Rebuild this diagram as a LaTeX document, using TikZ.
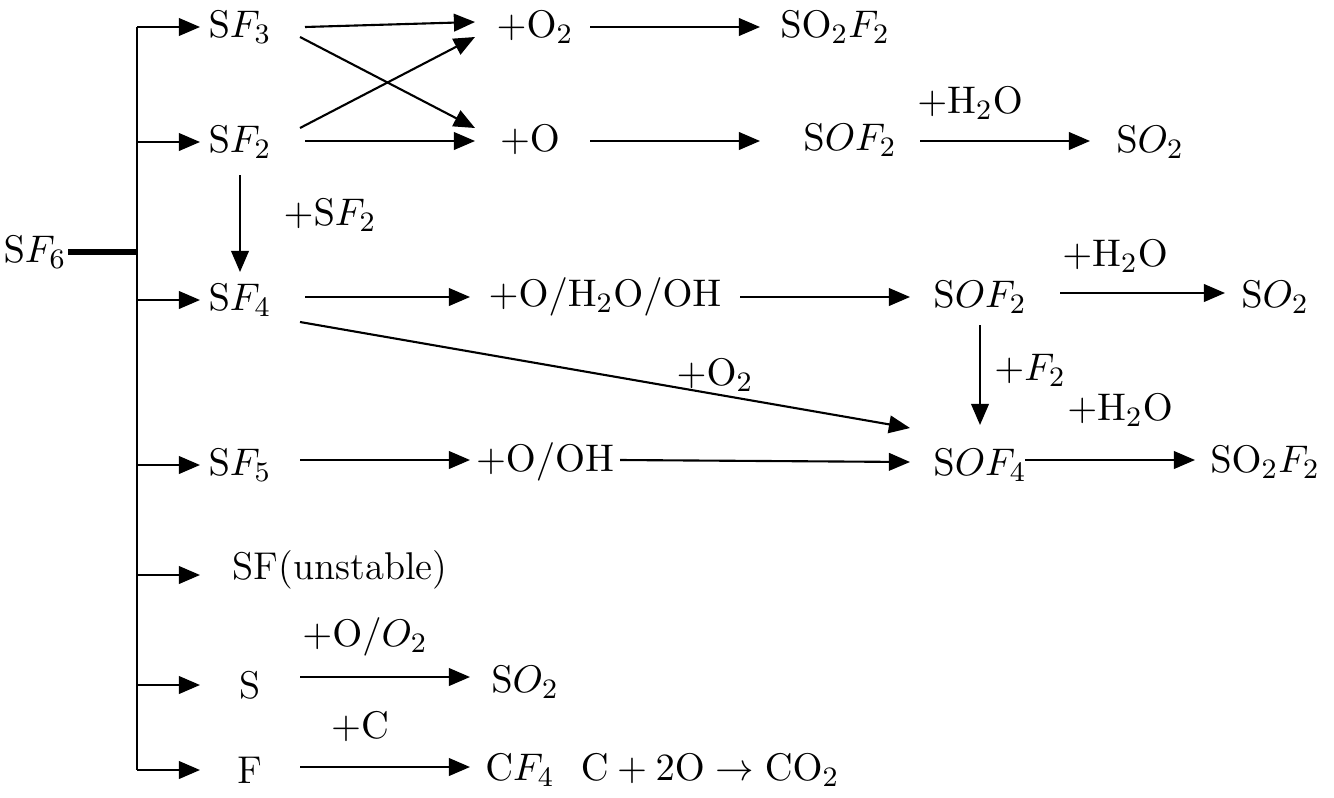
\documentclass[tikz,border=0pt]{standalone}
\usetikzlibrary{arrows.meta}
\begin{document}
\begin{tikzpicture}[x=0.01cm,y=-0.01cm,
 lbl/.style={font=\fontsize{11}{13}\selectfont,inner sep=1pt},
 arr/.style={line width=0.6pt,-{Triangle[length=6pt,width=5pt]}}]
\useasboundingbox (0,0) rectangle (1334,797);
% nodes
\node[lbl] (sf6) at (35,252) {$\mathrm{S}F_6$};
\node[lbl] (sf3) at (240,27) {$\mathrm{S}F_3$};
\node[lbl] (sf2) at (240,142) {$\mathrm{S}F_2$};
\node[lbl] (sf4) at (240,300) {$\mathrm{S}F_4$};
\node[lbl] (sf5) at (240,465) {$\mathrm{S}F_5$};
\node[lbl] (sfu) at (340,570) {SF(unstable)};
\node[lbl] (s) at (250,685) {S};
\node[lbl] (f) at (250,770) {F};
\node[lbl] (o2a) at (535,27) {$+\mathrm{O}_2$};
\node[lbl] (so2f2a) at (835,27) {$\mathrm{SO}_2F_2$};
\node[lbl] (oa) at (530,140) {$+\mathrm{O}$};
\node[lbl] (sof2a) at (850,140) {$\mathrm{S}OF_2$};
\node[lbl] (so2a) at (1150,142) {$\mathrm{S}O_2$};
\node[lbl] (ohw) at (605,297) {$+\mathrm{O/H_2O/OH}$};
\node[lbl] (sof2b) at (980,297) {$\mathrm{S}OF_2$};
\node[lbl] (so2b) at (1275,297) {$\mathrm{S}O_2$};
\node[lbl] (ooh) at (545,462) {$+\mathrm{O/OH}$};
\node[lbl] (sof4) at (980,465) {$\mathrm{S}OF_4$};
\node[lbl] (so2f2b) at (1265,462) {$\mathrm{SO}_2F_2$};
\node[lbl] (so2c) at (525,682) {$\mathrm{S}O_2$};
\node[lbl] (cf4) at (520,770) {$\mathrm{C}F_4$};
\node[lbl] (co2) at (710,770) {$\mathrm{C}+2\mathrm{O}\rightarrow\mathrm{CO}_2$};
% labels
\node[lbl] (l1) at (970,103) {$+\mathrm{H_2O}$};
\node[lbl] (l2) at (330,215) {$+\mathrm{S}F_2$};
\node[lbl] (l3) at (1115,256) {$+\mathrm{H_2O}$};
\node[lbl] (l4) at (715,375) {$+\mathrm{O}_2$};
\node[lbl] (l5) at (1030,370) {$+F_2$};
\node[lbl] (l6) at (1120,410) {$+\mathrm{H_2O}$};
\node[lbl] (l7) at (365,637) {$+\mathrm{O}/O_2$};
\node[lbl] (l8) at (360,727) {$+\mathrm{C}$};
% trunk
\coordinate (t0) at (68,252); \coordinate (t1) at (137,252);
\coordinate (ttop) at (137,27); \coordinate (tbot) at (137,770);
\draw[line width=1.6pt] (t0) -- (t1);
\draw[line width=0.6pt] (ttop) -- (tbot);
\foreach \y in {27,142,300,465,575,685,770}{
  \draw[arr] (137,\y) -- (200,\y);}
% arrows
\draw[arr] (305,27) -- (475,22);
\draw[arr] (300,37) -- (475,128);
\draw[arr] (300,128) -- (475,37);
\draw[arr] (590,27) -- (760,27);
\draw[arr] (305,141) -- (475,141);
\draw[arr] (590,141) -- (760,141);
\draw[arr] (920,141) -- (1090,141);
\draw[arr] (240,175) -- (240,272);
\draw[arr] (305,297) -- (470,297);
\draw[arr] (740,297) -- (910,297);
\draw[arr] (1060,293) -- (1225,293);
\draw[arr] (300,322) -- (910,428);
\draw[arr] (980,325) -- (980,425);
\draw[arr] (300,460) -- (470,460);
\draw[arr] (620,460) -- (910,462);
\draw[arr] (1025,460) -- (1195,460);
\draw[arr] (300,677) -- (470,677);
\draw[arr] (300,767) -- (470,767);
\end{tikzpicture}
\end{document}
